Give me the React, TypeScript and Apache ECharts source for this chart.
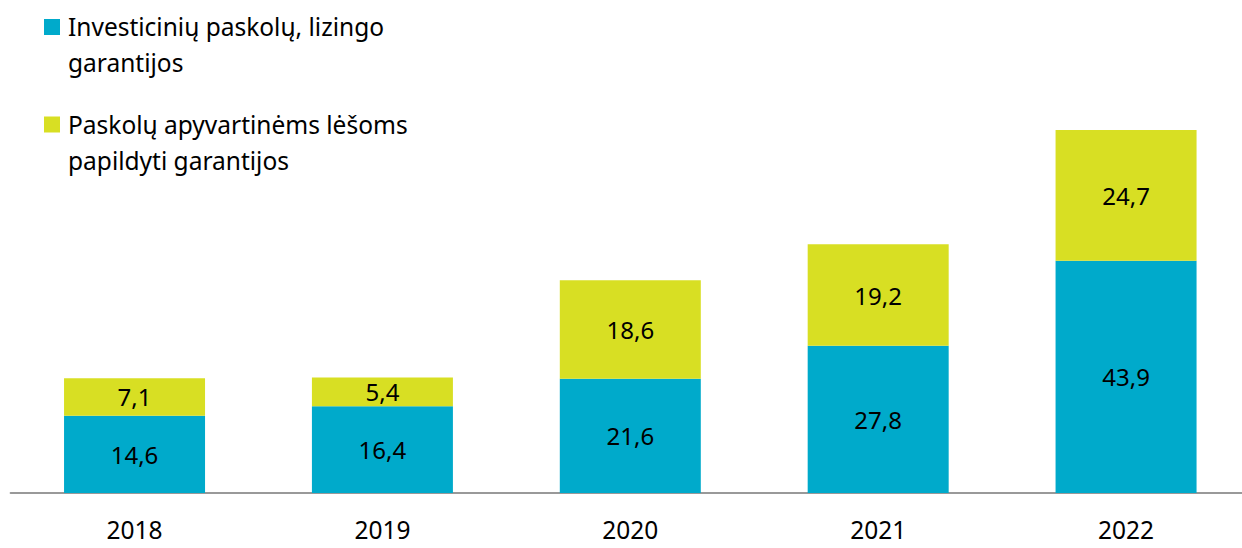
import React, { useEffect, useRef } from "react";
import * as echarts from "echarts";

const years = ["2018", "2019", "2020", "2021", "2022"];
const investValues = [14.6, 16.4, 21.6, 27.8, 43.9];
const workingCapValues = [7.1, 5.4, 18.6, 19.2, 24.7];
const seriesNames = ["Investicinių paskolų, lizingo\ngarantijos", "Paskolų apyvartinėms lėšoms\npapildyti garantijos"];
const colors = ["#00AACB", "#D8DF23"];

const FONT = "'Noto Sans', 'Open Sans', sans-serif";

export default function App() {
  const ref = useRef<HTMLDivElement>(null);
  useEffect(() => {
    if (!ref.current) return;
    const chart = echarts.init(ref.current, undefined, { renderer: "svg" });
    const fmt = (p: any) => String(p.value).replace(".", ",");
    chart.setOption({
      animation: false,
      grid: { left: 10.6, right: 0, top: 69.6, bottom: 55, containLabel: false },
      xAxis: {
        type: "category",
        data: years,
        axisLine: { show: true, lineStyle: { color: "#999999", width: 2 } },
        axisTick: { show: false },
        axisLabel: { color: "#000", fontSize: 24.5, lineHeight: 25, fontFamily: FONT, margin: 24 },
      },
      yAxis: { type: "value", min: 0, max: 80, show: false, splitLine: { show: false } },
      graphic: seriesNames.flatMap((name, i) => [
        { type: "rect", shape: { x: 44, y: 19 + i * 97.5, width: 16, height: 16 }, style: { fill: colors[i] } },
        {
          type: "text",
          x: 68,
          y: 8.5 + i * 97.5,
          style: { text: name, font: `24.5px ${FONT}`, fill: "#000", lineHeight: 36 },
        },
      ]),
      series: [
        {
          name: seriesNames[0],
          type: "bar",
          stack: "total",
          data: investValues,
          barWidth: 141,
          itemStyle: { color: colors[0] },
          label: { show: true, position: "inside", color: "#000", fontSize: 24, fontFamily: FONT, formatter: fmt },
        },
        {
          name: seriesNames[1],
          type: "bar",
          stack: "total",
          data: workingCapValues,
          barWidth: 141,
          itemStyle: { color: colors[1] },
          label: { show: true, position: "inside", color: "#000", fontSize: 24, fontFamily: FONT, formatter: fmt },
        },
      ],
    });
    return () => chart.dispose();
  }, []);
  return (
    <div style={{ width: 1242, height: 548, position: "absolute", left: 0, top: 0, overflow: "hidden" }}>
      <div ref={ref} style={{ width: 1250, height: 548 }} />
    </div>
  );
}
